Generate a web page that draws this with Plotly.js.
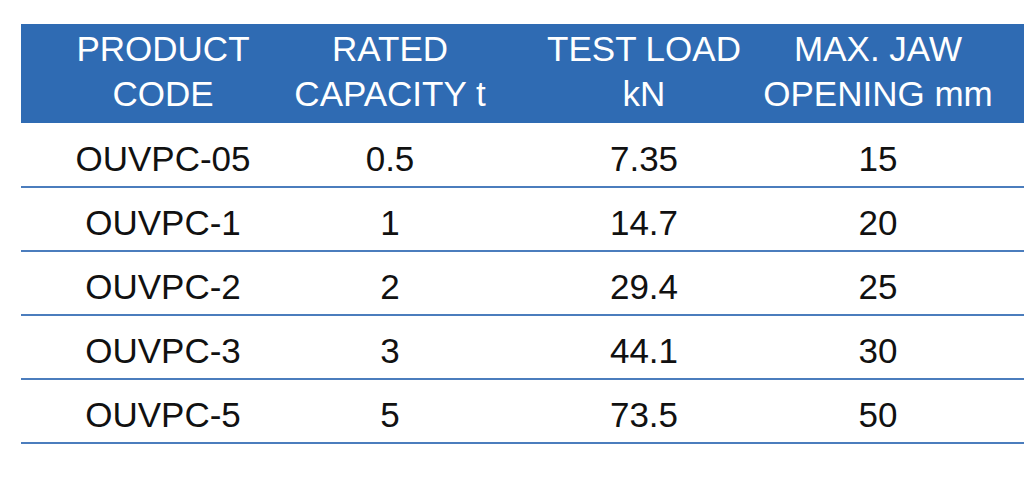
<!DOCTYPE html>
<html><head><meta charset="utf-8">
<script src="https://cdn.plot.ly/plotly-3.0.1.min.js"></script>
<style>html,body{margin:0;padding:0;background:#fff}#chart{width:1024px;height:484px}</style>
</head><body><div id="chart"></div>
<script>
// ---- data ----
var headers = ["PRODUCT<br>CODE", "RATED<br>CAPACITY t", "TEST LOAD<br>kN", "MAX. JAW<br>OPENING mm"];
var productCodes = ["OUVPC-05", "OUVPC-1", "OUVPC-2", "OUVPC-3", "OUVPC-5"];
var ratedCapacity = ["0.5", "1", "2", "3", "5"];
var testLoad = ["7.35", "14.7", "29.4", "44.1", "73.5"];
var jawOpening = ["15", "20", "25", "30", "50"];

// ---- layout constants ----
var colX = [163, 390, 644, 878];
var tableLeft = 21, tableRight = 1030;
var headTop = 24, headBottom = 123, rowH = 64;
var blue = "#2f6bb3", lineBlue = "#4b7dbd";
var fontFam = "Liberation Sans, Arial, Helvetica, sans-serif";

var columns = [productCodes, ratedCapacity, testLoad, jawOpening];
var traces = [];
// header texts
traces.push({
  type: "scatter", mode: "text", hoverinfo: "skip",
  x: colX, y: headers.map(function(){ return (headTop + headBottom) / 2 + 1; }),
  text: headers, textposition: "middle center",
  textfont: {family: fontFam, size: 35, color: "#ffffff"}
});
// body texts
columns.forEach(function(col, j){
  traces.push({
    type: "scatter", mode: "text", hoverinfo: "skip",
    x: col.map(function(){ return colX[j]; }),
    y: col.map(function(v, i){ return headBottom + rowH * i + rowH / 2 + 7; }),
    text: col, textposition: "middle center",
    textfont: {family: fontFam, size: 35, color: "#111111"}
  });
});

var shapes = [{
  type: "rect", xref: "x", yref: "y", layer: "below",
  x0: tableLeft, x1: tableRight, y0: headTop, y1: headBottom,
  fillcolor: blue, line: {width: 0}
}];
productCodes.forEach(function(v, i){
  var yy = headBottom + rowH * (i + 1);
  shapes.push({type: "line", xref: "x", yref: "y", x0: tableLeft, x1: tableRight, y0: yy, y1: yy,
    line: {color: lineBlue, width: 2}});
});

var layout = {
  width: 1024, height: 484,
  margin: {l: 0, r: 0, t: 0, b: 0},
  paper_bgcolor: "#ffffff", plot_bgcolor: "#ffffff",
  showlegend: false,
  xaxis: {range: [0, 1024], visible: false, fixedrange: true},
  yaxis: {range: [484, 0], visible: false, fixedrange: true},
  shapes: shapes
};
Plotly.newPlot("chart", traces, layout, {displayModeBar: false, staticPlot: true});
</script>
</body></html>
